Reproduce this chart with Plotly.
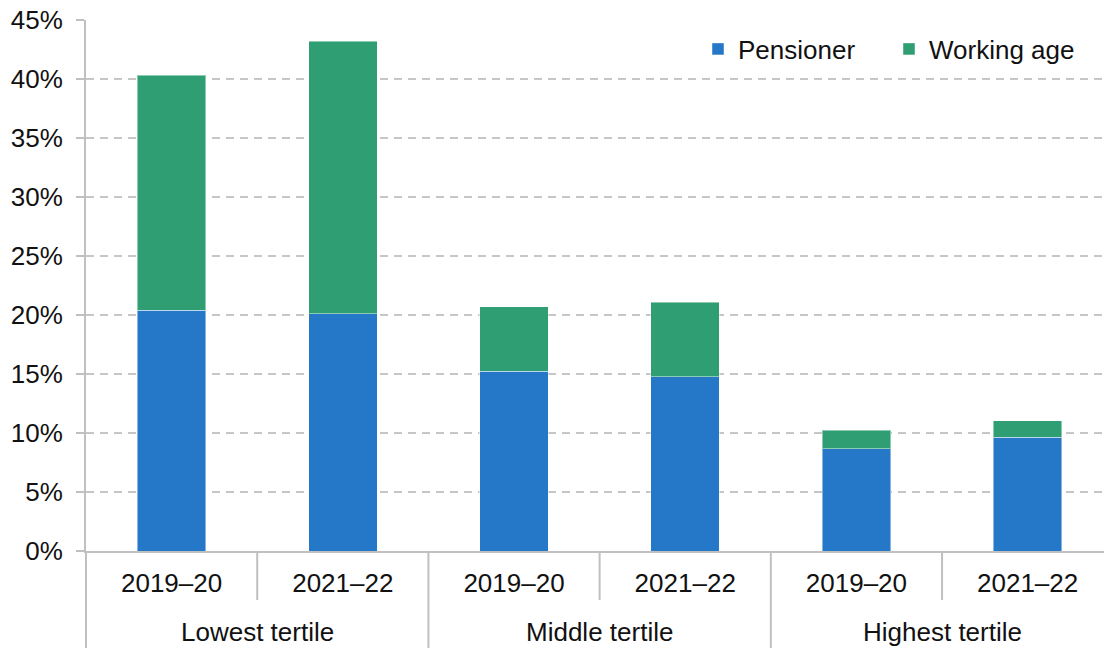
import plotly.graph_objects as go

groups = ["Lowest tertile", "Middle tertile", "Highest tertile"]
years = ["2019–20", "2021–22"]
pensioner = [20.4, 20.1, 15.25, 14.75, 8.65, 9.65]
working_age = [19.9, 23.1, 5.45, 6.35, 1.6, 1.4]

W, H = 1104, 648
ML, MR, MT, MB = 86, 0, 20, 97
xr = [-0.5, 5.446]

x_idx = list(range(len(groups) * len(years)))
tick_text = [y for g in groups for y in years]

fig = go.Figure()
fig.add_bar(x=x_idx, y=pensioner, name="Pensioner", width=0.4,
            marker=dict(color="#2577C8", line=dict(color="rgba(255,255,255,0.45)", width=1)))
fig.add_bar(x=x_idx, y=working_age, name="Working age", width=0.4,
            marker=dict(color="#2F9E73", line=dict(color="rgba(255,255,255,0.45)", width=1)))

def px_x(v):
    # category index -> paper x
    return (v - xr[0]) / (xr[1] - xr[0])

plot_h = H - MT - MB
y_bottom = -MB / plot_h
y_inner = -49 / plot_h

shapes = []
# dividers: full height between groups, short between years
for k in range(len(x_idx)):
    b = k - 0.5
    y0 = y_bottom if k % 2 == 0 else y_inner
    shapes.append(dict(type="line", xref="paper", yref="paper", x0=px_x(b), x1=px_x(b),
                       y0=y0, y1=0, line=dict(color="#c0c0c0", width=2)))

annotations = []
for i, g in enumerate(groups):
    annotations.append(dict(text=g, xref="x", yref="paper", x=i * 2 + 0.5, y=-81 / plot_h,
                            showarrow=False, xanchor="center", yanchor="middle",
                            font=dict(size=26, color="#111111")))

fig.update_layout(
    width=W, height=H, barmode="stack",
    margin=dict(l=ML, r=MR, t=MT, b=MB, autoexpand=False),
    plot_bgcolor="white", paper_bgcolor="white",
    font=dict(family="Liberation Sans, Arial, sans-serif", size=26, color="#111111"),
    shapes=shapes, annotations=annotations,
    legend=dict(orientation="h", x=(698 - ML) / (W - ML - MR), y=(H - MB - 49) / plot_h,
                xanchor="left", yanchor="middle", bgcolor="rgba(0,0,0,0)",
                traceorder="normal", entrywidth=146, font=dict(size=26)),
    bargap=0.6,
)
fig.update_xaxes(range=xr, tickvals=x_idx, ticktext=tick_text, showgrid=False,
                 zeroline=False, showline=True, linecolor="#c0c0c0", linewidth=2,
                 ticks="", ticklabelstandoff=8)
fig.update_yaxes(range=[0, 45], dtick=5, ticksuffix="%", showgrid=True,
                 gridcolor="#c6c6c6", gridwidth=2, griddash="8px,6px",
                 zeroline=False, showline=True, linecolor="#c0c0c0", linewidth=2,
                 ticks="outside", ticklen=8, tickcolor="#c0c0c0", tickwidth=2,
                 ticklabelstandoff=8)

fig.write_html("out.html", config={"displayModeBar": False},
               post_script="document.body.style.margin='0';")
